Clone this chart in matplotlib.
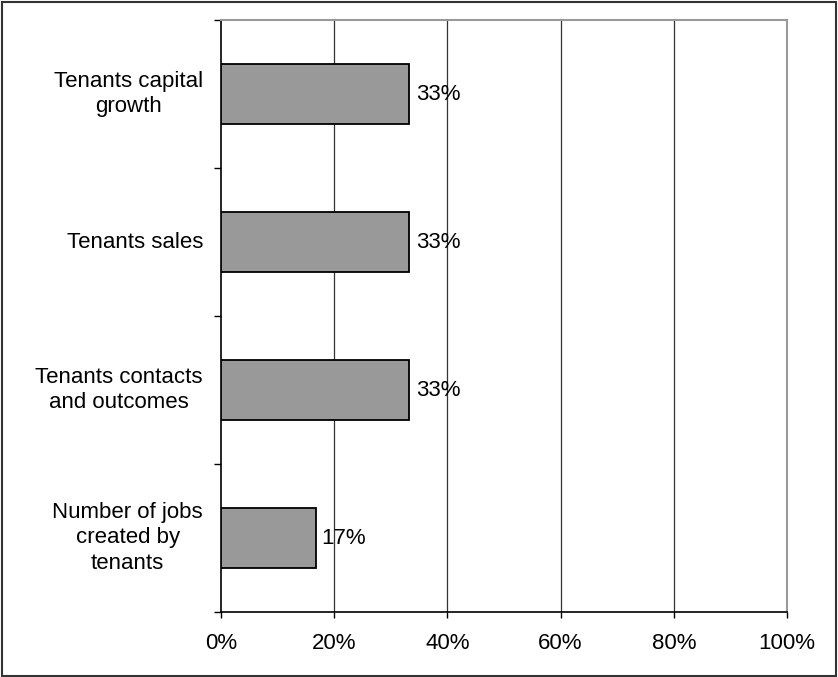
import matplotlib.pyplot as plt
from matplotlib.patches import Rectangle

plt.rcParams['font.family'] = ['Liberation Sans', 'DejaVu Sans']

categories = ['Tenants capital\ngrowth', 'Tenants sales', 'Tenants contacts\nand outcomes',
              'Number of jobs\ncreated by\ntenants']
values = [33.3, 33.3, 33.3, 16.7]
labels = ['33%', '33%', '33%', '17%']
xticks = [0, 20, 40, 60, 80, 100]

fs = 16

fig = plt.figure(figsize=(8.38, 6.77), dpi=100)
ax = fig.add_axes([221 / 838, 1 - 612 / 677, 566 / 838, 592 / 677])

pos = list(range(len(categories)))
bars = ax.barh(pos, values, height=0.4, color='#999999', edgecolor='black', linewidth=1.3, zorder=3)
for b, lab in zip(bars, labels):
    ax.text(b.get_width() + 1.1, b.get_y() + b.get_height() / 2, lab,
            va='center', ha='left', fontsize=fs, zorder=4)

ax.set_xlim(0, 100)
ax.set_ylim(len(categories) - 0.5, -0.5)
ax.set_xticks(xticks)
ax.set_xticklabels([f'{t}%' for t in xticks], fontsize=fs)
ax.tick_params(axis='x', direction='out', length=4, width=1, color='black', pad=11)

# category labels between boundary ticks
ax.set_yticks([p - 0.5 for p in pos] + [len(categories) - 0.5])
ax.set_yticklabels([])
ax.tick_params(axis='y', direction='out', length=5, width=1, color='black')
for p, c in zip(pos, categories):
    ax.text(-3.2, p, c, ha='right', va='center', multialignment='center',
            fontsize=fs, linespacing=1.3)

for t in xticks[1:-1]:
    ax.axvline(t, color='#333333', linewidth=0.9, zorder=1)

for s in ['left', 'bottom']:
    ax.spines[s].set_color('black')
    ax.spines[s].set_linewidth(1.2)
for s in ['top', 'right']:
    ax.spines[s].set_color('#999999')
    ax.spines[s].set_linewidth(1.5)

fig.patches.append(Rectangle((0.002, 0.002), 0.996, 0.995, transform=fig.transFigure,
                             fill=False, edgecolor='#333333', linewidth=1.5))

fig.savefig('out.png', dpi=100)
